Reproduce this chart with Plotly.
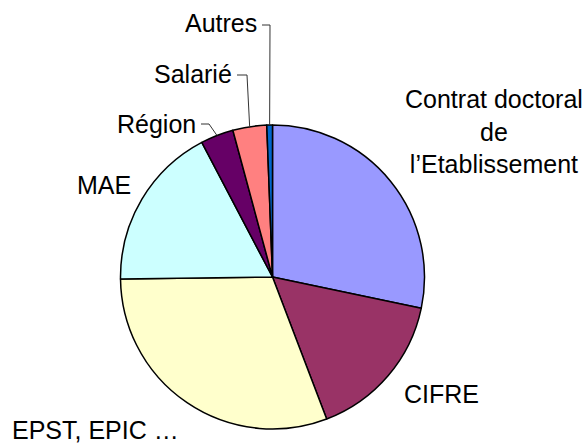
import math
import plotly.graph_objects as go

# ---- data ----
categories = ["Contrat doctoral<br>de<br>l’Etablissement", "CIFRE", "EPST, EPIC …",
              "MAE", "Région", "Salarié", "Autres"]
values = [28.3, 15.9, 30.6, 17.5, 3.5, 3.6, 0.6]
colors = ["#9999FF", "#993366", "#FFFFCC", "#CCFFFF", "#660066", "#FF8080", "#0066CC"]

W, H = 588, 443
CX, CY, R = 272.5, 277, 152  # pie centre / radius in pixels

def px(x):
    return x / W

def py(y):
    return 1 - y / H

fig = go.Figure(go.Pie(
    labels=categories,
    values=values,
    sort=False,
    direction="clockwise",
    rotation=0,
    textinfo="none",
    hoverinfo="label+percent",
    marker=dict(colors=colors, line=dict(color="black", width=1.5)),
    domain=dict(x=[px(CX - R), px(CX + R)], y=[py(CY + R), py(CY - R)]),
    showlegend=False,
))

font = dict(family="Liberation Sans, Arial, sans-serif", size=25, color="black")

# label placements (pixel positions of text anchor)
label_pos = {
    0: (494, 131, "center", "middle"),
    1: (402, 394, "left", "middle"),
    2: (10, 430, "left", "middle"),
    3: (104, 185, "center", "middle"),
    4: (198, 124, "right", "middle"),
    5: (234, 74, "right", "middle"),
    6: (259, 23, "right", "middle"),
}
annotations = []
for i, (x, y, xa, ya) in label_pos.items():
    annotations.append(dict(
        x=px(x), y=py(y), xref="paper", yref="paper", text=categories[i],
        showarrow=False, xanchor=xa, yanchor=ya, font=font, align="center"))

# leader lines for the small slices, ending at slice mid-angle on the rim
total = sum(values)
cum = 0
mids = []
for v in values:
    mids.append((cum + v / 2) / total * 2 * math.pi)
    cum += v

def rim(i):
    a = mids[i]
    return CX + R * math.sin(a), CY - R * math.cos(a)

elbows = {4: ((201, 124), (209, 124)), 5: ((237, 75), (247, 75)), 6: ((262, 25), (270, 25))}
shapes = []
for i, (p0, p1) in elbows.items():
    ex, ey = rim(i)
    path = f"M {px(p0[0])},{py(p0[1])} L {px(p1[0])},{py(p1[1])} L {px(ex)},{py(ey)}"
    shapes.append(dict(type="path", path=path, xref="paper", yref="paper",
                       line=dict(color="#333333", width=1)))

fig.update_layout(
    width=W, height=H,
    margin=dict(l=0, r=0, t=0, b=0),
    paper_bgcolor="white", plot_bgcolor="white",
    annotations=annotations, shapes=shapes,
)

fig.write_html("out.html",
               config={"displayModeBar": False},
               post_script="document.body.style.margin='0';document.body.style.overflow='hidden';")
